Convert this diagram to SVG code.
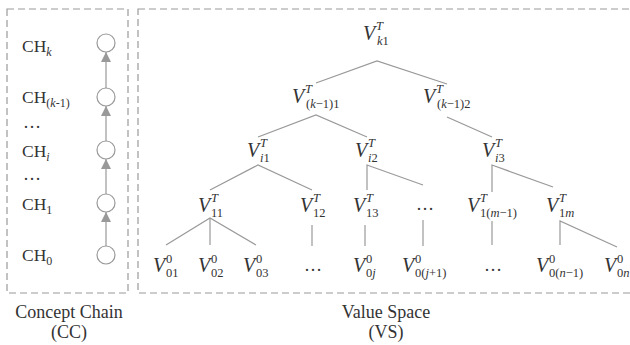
<svg xmlns="http://www.w3.org/2000/svg" width="630" height="345" viewBox="0 0 630 345">
<style>
  .box { fill: none; stroke: #9a9a9a; stroke-width: 1.2; stroke-dasharray: 7 4; }
  .ln { stroke: #999; stroke-width: 1.2; fill: none; }
  .cir { fill: #fff; stroke: #999; stroke-width: 1.2; }
  text { font-family: "Liberation Serif", "DejaVu Serif", serif; fill: #333; }
  .lbl { font-size: 18px; text-anchor: middle; }
  .ch { font-size: 17.5px; }
  .chs { font-size: 12px; }
  .v { font-size: 20px; font-style: italic; }
  .sup { font-size: 12.5px; }
  .sub { font-size: 12.5px; }
  .it { font-style: italic; }
  .dots { font-size: 18px; }
</style>
<defs>
  <marker id="arr" markerUnits="userSpaceOnUse" markerWidth="10" markerHeight="10" refX="10" refY="5" orient="auto">
    <path d="M0,0 L10,5 L0,10 Z" fill="#999"/>
  </marker>
</defs>

<rect class="box" x="7" y="9" width="121" height="284"/>
<rect class="box" x="138" y="9" width="500" height="284"/>

<text class="lbl" x="69" y="318">Concept Chain</text>
<text class="lbl" x="69" y="338">(CC)</text>
<text class="lbl" x="386" y="318">Value Space</text>
<text class="lbl" x="386" y="338">(VS)</text>

<g id="connectors">
  <line class="ln" x1="106" y1="246" x2="106" y2="212" marker-end="url(#arr)"/>
  <line class="ln" x1="106" y1="194" x2="106" y2="159" marker-end="url(#arr)"/>
  <line class="ln" x1="106" y1="141" x2="106" y2="106" marker-end="url(#arr)"/>
  <line class="ln" x1="106" y1="88" x2="106" y2="52" marker-end="url(#arr)"/>

  <polyline class="ln" points="316,83 377,61 447,84"/>
  <polyline class="ln" points="258,137 316,115 367,137"/>
  <line class="ln" x1="447" y1="117" x2="492" y2="137"/>
  <polyline class="ln" points="210,190 258,165 312,190"/>
  <polyline class="ln" points="367,190 367,165 423,185"/>
  <polyline class="ln" points="492,192 492,165 553,187"/>
  <polyline class="ln" points="166,245 210,218 256,245"/>
  <line class="ln" x1="210" y1="218" x2="210" y2="245"/>
  <line class="ln" x1="312" y1="225" x2="312" y2="246"/>
  <line class="ln" x1="365" y1="225" x2="365" y2="246"/>
  <line class="ln" x1="423" y1="220" x2="423" y2="246"/>
  <line class="ln" x1="492" y1="221" x2="492" y2="245"/>
  <polyline class="ln" points="560,245 560,221 617,247"/>
</g>

<g id="ch-k"><circle class="cir" cx="106" cy="43" r="9"/><text class="ch" x="22" y="52">CH<tspan class="chs it" dy="4">k</tspan></text></g>
<g id="ch-k1"><circle class="cir" cx="106" cy="97" r="9"/><text class="ch" x="22" y="103">CH<tspan class="chs" dy="4">(<tspan class="it">k</tspan>-1)</tspan></text></g>
<text class="dots" x="23" y="128">…</text>
<g id="ch-i"><circle class="cir" cx="106" cy="150" r="9"/><text class="ch" x="22" y="157">CH<tspan class="chs it" dy="4">i</tspan></text></g>
<text class="dots" x="23" y="180">…</text>
<g id="ch-1"><circle class="cir" cx="106" cy="203" r="9"/><text class="ch" x="22" y="210">CH<tspan class="chs" dy="4">1</tspan></text></g>
<g id="ch-0"><circle class="cir" cx="106" cy="255" r="9"/><text class="ch" x="22" y="261">CH<tspan class="chs" dy="4">0</tspan></text></g>

<g id="v-k1"><text class="v" x="363" y="40">V</text><text class="sup it" x="376" y="30">T</text><text class="sub" x="377" y="45"><tspan class="it">k</tspan>1</text></g>
<g id="v-k-1-1"><text class="v" x="292" y="103">V</text><text class="sup it" x="305" y="93">T</text><text class="sub" x="306" y="108">(<tspan class="it">k</tspan>−1)1</text></g>
<g id="v-k-1-2"><text class="v" x="423" y="103">V</text><text class="sup it" x="436" y="93">T</text><text class="sub" x="437" y="108">(<tspan class="it">k</tspan>−1)2</text></g>
<g id="v-i1"><text class="v" x="247" y="157">V</text><text class="sup it" x="260" y="147">T</text><text class="sub" x="260" y="162"><tspan class="it">i</tspan>1</text></g>
<g id="v-i2"><text class="v" x="355" y="157">V</text><text class="sup it" x="368" y="147">T</text><text class="sub" x="368" y="162"><tspan class="it">i</tspan>2</text></g>
<g id="v-i3"><text class="v" x="482" y="157">V</text><text class="sup it" x="495" y="147">T</text><text class="sub" x="495" y="162"><tspan class="it">i</tspan>3</text></g>
<g id="v-11"><text class="v" x="198" y="212">V</text><text class="sup it" x="211" y="202">T</text><text class="sub" x="211" y="217">11</text></g>
<g id="v-12"><text class="v" x="300" y="212">V</text><text class="sup it" x="313" y="202">T</text><text class="sub" x="313" y="217">12</text></g>
<g id="v-13"><text class="v" x="353" y="212">V</text><text class="sup it" x="366" y="202">T</text><text class="sub" x="366" y="217">13</text></g>
<g id="dots-3"><text class="dots" x="416" y="210">…</text></g>
<g id="v-1m-1"><text class="v" x="467" y="212">V</text><text class="sup it" x="480" y="202">T</text><text class="sub" x="480" y="217">1(<tspan class="it">m</tspan>−1)</text></g>
<g id="v-1m"><text class="v" x="546" y="212">V</text><text class="sup it" x="559" y="202">T</text><text class="sub" x="559" y="217">1<tspan class="it">m</tspan></text></g>
<g id="v-01"><text class="v" x="153" y="272">V</text><text class="sup" x="166" y="263">0</text><text class="sub" x="166" y="277">01</text></g>
<g id="v-02"><text class="v" x="198" y="272">V</text><text class="sup" x="211" y="263">0</text><text class="sub" x="211" y="277">02</text></g>
<g id="v-03"><text class="v" x="243" y="272">V</text><text class="sup" x="256" y="263">0</text><text class="sub" x="256" y="277">03</text></g>
<g id="dots-4a"><text class="dots" x="304" y="271">…</text></g>
<g id="v-0j"><text class="v" x="353" y="272">V</text><text class="sup" x="366" y="263">0</text><text class="sub" x="366" y="277">0<tspan class="it">j</tspan></text></g>
<g id="v-0j1"><text class="v" x="402" y="272">V</text><text class="sup" x="415" y="263">0</text><text class="sub" x="415" y="277">0(<tspan class="it">j</tspan>+1)</text></g>
<g id="dots-4b"><text class="dots" x="484" y="271">…</text></g>
<g id="v-0n-1"><text class="v" x="536" y="272">V</text><text class="sup" x="549" y="263">0</text><text class="sub" x="549" y="277">0(<tspan class="it">n</tspan>−1)</text></g>
<g id="v-0n"><text class="v" x="604" y="272">V</text><text class="sup" x="617" y="263">0</text><text class="sub" x="617" y="277">0<tspan class="it">n</tspan></text></g>
</svg>
